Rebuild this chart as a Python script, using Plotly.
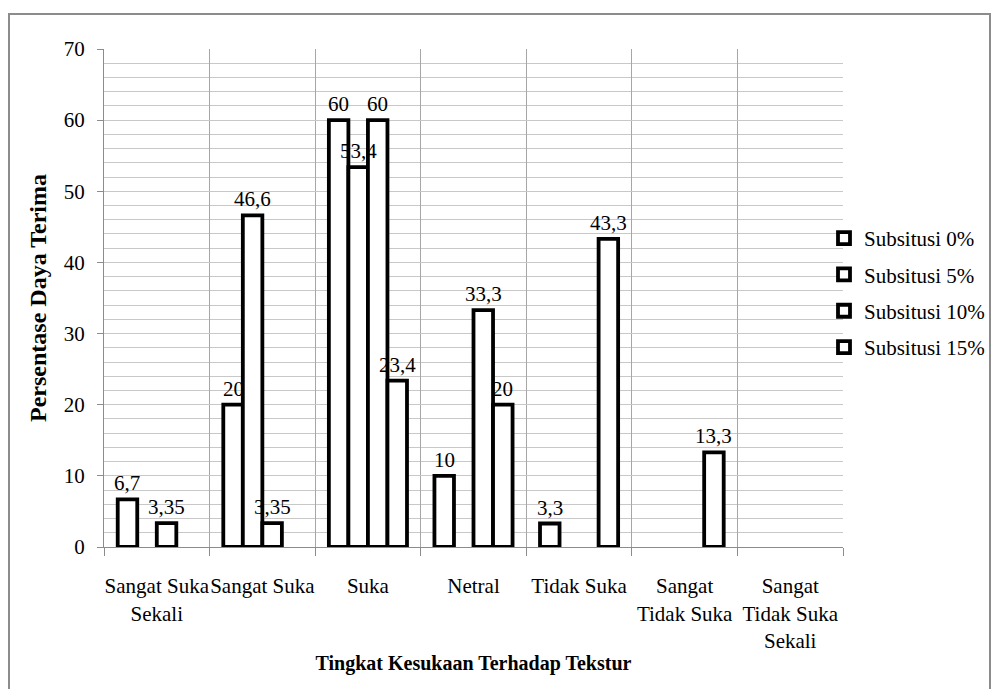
import plotly.graph_objects as go

# Preference levels for texture (x categories)
categories = [
    "Sangat Suka<br>Sekali",
    "Sangat Suka",
    "Suka",
    "Netral",
    "Tidak Suka",
    "Sangat<br>Tidak Suka",
    "Sangat<br>Tidak Suka<br>Sekali",
]

# Acceptance percentage per substitution level (None = no response)
subsitusi_0 = [6.7, 20, 60, 10, 3.3, None, None]
subsitusi_5 = [None, 46.6, 53.4, None, None, None, None]
subsitusi_10 = [3.35, 3.35, 60, 33.3, None, None, None]
subsitusi_15 = [None, None, 23.4, 20, 43.3, 13.3, None]

series_names = ["Subsitusi 0%", "Subsitusi 5%", "Subsitusi 10%", "Subsitusi 15%"]
series_values = [subsitusi_0, subsitusi_5, subsitusi_10, subsitusi_15]

FONT = "Liberation Serif"
BARGAP = 0.26


def fmt(v):
    return f"{v:g}".replace(".", ",")


fig = go.Figure()
for i, (name, vals) in enumerate(zip(series_names, series_values)):
    fig.add_trace(
        go.Bar(
            name=name,
            x=categories,
            y=vals,
            marker=dict(color="white", line=dict(color="black", width=3.8)),
            legendgroup=f"g{i}",
        )
    )

# Plot area: x 104..843 px, y 49..547 px
L, R, T, B = 104, 149, 49, 142
W, H = 992, 689
pw, ph = W - L - R, H - T - B


def px_x(p):
    return (p - L) / pw


def px_y(p):
    return (H - B - p) / ph


# Value labels drawn on top of every bar, centred over each bar of the group
n_series = len(series_values)
slot = pw / len(categories) * (1 - BARGAP) / n_series
annotations = []
for i, vals in enumerate(series_values):
    for cat, v in zip(categories, vals):
        if v is None:
            continue
        annotations.append(
            dict(
                x=cat,
                y=v,
                xref="x",
                yref="y",
                text=fmt(v),
                showarrow=False,
                xshift=(i - (n_series - 1) / 2) * slot,
                yanchor="bottom",
                yshift=2,
                font=dict(family=FONT, size=21, color="black"),
            )
        )

fig.update_layout(
    width=W,
    height=H,
    margin=dict(l=L, r=R, t=T, b=B, autoexpand=False),
    paper_bgcolor="white",
    plot_bgcolor="white",
    font=dict(family=FONT, size=21, color="black"),
    barmode="group",
    bargap=BARGAP,
    bargroupgap=0,
    showlegend=True,
    annotations=annotations,
    legend=dict(
        x=px_x(824),
        y=0.51,
        xanchor="left",
        yanchor="middle",
        font=dict(family=FONT, size=21, color="black"),
        tracegroupgap=6,
        bgcolor="rgba(0,0,0,0)",
        itemwidth=30,
    ),
    xaxis=dict(
        tickson="boundaries",
        ticks="outside",
        ticklen=8,
        tickcolor="#8c8c8c",
        tickangle=0,
        showgrid=True,
        gridcolor="#a6a6a6",
        gridwidth=1,
        showline=True,
        linecolor="#8c8c8c",
        linewidth=1,
        tickfont=dict(family=FONT, size=21, color="black"),
        ticklabelstandoff=20,
        title=dict(
            text="<b>Tingkat Kesukaan Terhadap Tekstur</b>",
            font=dict(family=FONT, size=20, color="black"),
            standoff=4,
        ),
    ),
    yaxis=dict(
        range=[0, 70],
        dtick=10,
        ticks="outside",
        ticklen=6,
        tickcolor="#8c8c8c",
        showline=True,
        linecolor="#8c8c8c",
        linewidth=1,
        showgrid=True,
        gridcolor="#c8c8c8",
        gridwidth=1,
        zeroline=False,
        minor=dict(dtick=2, showgrid=True, gridcolor="#c8c8c8", gridwidth=1, ticks=""),
        tickfont=dict(family=FONT, size=21, color="black"),
        ticklabelstandoff=8,
        title=dict(
            text="<b>Persentase Daya Terima</b>",
            font=dict(family=FONT, size=24, color="black"),
            standoff=10,
        ),
    ),
    shapes=[
        dict(
            type="rect",
            xref="paper",
            yref="paper",
            x0=px_x(9),
            x1=px_x(990),
            y0=px_y(700),
            y1=px_y(14),
            line=dict(color="#8c8c8c", width=2),
            fillcolor="rgba(0,0,0,0)",
            layer="below",
        )
    ],
)

fig.write_html("out.html")
